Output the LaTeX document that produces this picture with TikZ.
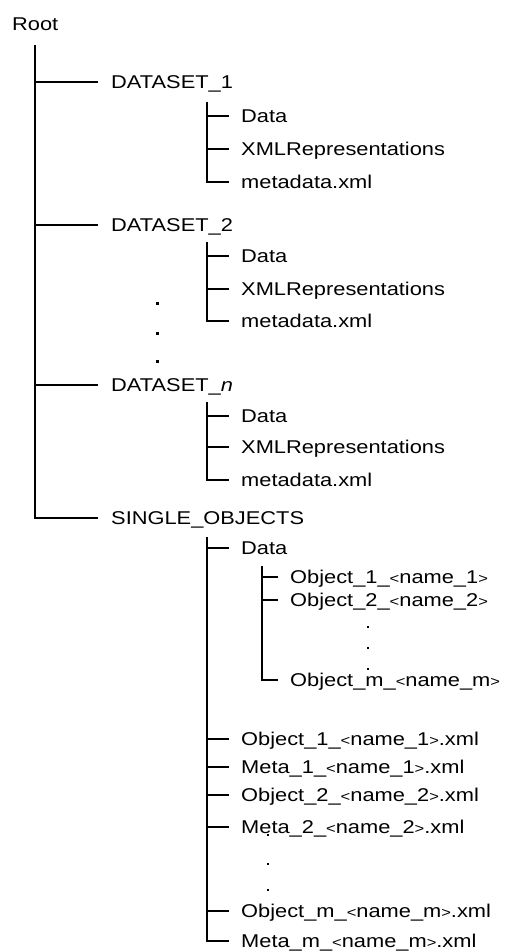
\documentclass[tikz,border=0pt]{standalone}
\usepackage{fontspec}
\newfontfamily\treefont[FakeStretch=1.18]{Liberation Sans}
\newcommand{\myLT}{{\fontsize{14}{14}\selectfont\raisebox{0.6pt}{<}}}
\newcommand{\myGT}{{\fontsize{14}{14}\selectfont\raisebox{0.6pt}{>}}}
\begin{document}
\begin{tikzpicture}[x=1pt,y=-1pt,
  lbl/.style={anchor=west, inner sep=0pt, text height=13.2pt, text depth=0pt,
    font=\treefont\fontsize{18.5}{20}\selectfont},
  link/.style={line width=1.9pt},
  bigdot/.style={fill, inner sep=0pt, minimum size=3pt},
  smalldot/.style={fill, inner sep=0pt, minimum size=1.6pt},
  middot/.style={fill, inner sep=0pt, minimum size=2.6pt}]
\useasboundingbox (0,0) rectangle (504,952);
\fill[white] (0,0) rectangle (504,952);

% root
\node[lbl] (root) at (12,24) {Root};
\coordinate (rbar) at (35,45);

% datasets
\node[lbl] (ds1) at (111,82) {DATASET\_1};
\coordinate (b1) at (207,102);
\node[lbl] (ds1a) at (241,116) {Data};
\node[lbl] (ds1b) at (241,149) {XMLRepresentations};
\node[lbl] (ds1c) at (241,182) {metadata.xml};

\node[lbl] (ds2) at (111,225) {DATASET\_2};
\coordinate (b2) at (207,242);
\node[lbl] (ds2a) at (241,256) {Data};
\node[lbl] (ds2b) at (241,289) {XMLRepresentations};
\node[lbl] (ds2c) at (241,321) {metadata.xml};

\node[bigdot] (dd1) at (157,303) {};
\node[bigdot] (dd2) at (157,333) {};
\node[bigdot] (dd3) at (157,361) {};

\node[lbl] (dsn) at (111,385) {DATASET\_\textit{n}};
\coordinate (bn) at (207,402);
\node[lbl] (dsna) at (241,416) {Data};
\node[lbl] (dsnb) at (241,447) {XMLRepresentations};
\node[lbl] (dsnc) at (241,480) {metadata.xml};

% single objects
\node[lbl] (single) at (111,518) {SINGLE\_OBJECTS};
\coordinate (bs) at (207,537);
\node[lbl] (data) at (241,548) {Data};
\coordinate (bd) at (262,566);
\node[lbl] (o1) at (290,577) {Object\_1\_\myLT name\_1\myGT};
\node[lbl] (o2) at (290,600) {Object\_2\_\myLT name\_2\myGT};
\node[smalldot] (od1) at (368,627) {};
\node[smalldot] (od2) at (368,648) {};
\node[smalldot] (od3) at (368,669) {};
\node[lbl] (om) at (290,680) {Object\_m\_\myLT name\_m\myGT};

\node[lbl] (x1) at (241,739) {Object\_1\_\myLT name\_1\myGT.xml};
\node[lbl] (m1) at (241,767) {Meta\_1\_\myLT name\_1\myGT.xml};
\node[lbl] (x2) at (241,795) {Object\_2\_\myLT name\_2\myGT.xml};
\node[lbl] (m2) at (241,827) {Meta\_2\_\myLT name\_2\myGT.xml};
\node[middot] (xd1) at (268,835) {};
\node[middot] (xd2) at (268,864) {};
\node[middot] (xd3) at (268,890) {};
\node[lbl] (xm) at (241,911) {Object\_m\_\myLT name\_m\myGT.xml};
\node[lbl] (mm) at (241,941) {Meta\_m\_\myLT name\_m\myGT.xml};

% connectors: root level
\draw[link] (rbar) |- ([xshift=-13pt]single.west);
\foreach \c in {ds1,ds2,dsn}
  \draw[link] (\c.west -| rbar) -- ([xshift=-13pt]\c.west);

% dataset children
\draw[link] (b1) |- ([xshift=-12pt]ds1c.west);
\foreach \c in {ds1a,ds1b}
  \draw[link] (\c.west -| b1) -- ([xshift=-12pt]\c.west);
\draw[link] (b2) |- ([xshift=-12pt]ds2c.west);
\foreach \c in {ds2a,ds2b}
  \draw[link] (\c.west -| b2) -- ([xshift=-12pt]\c.west);
\draw[link] (bn) |- ([xshift=-12pt]dsnc.west);
\foreach \c in {dsna,dsnb}
  \draw[link] (\c.west -| bn) -- ([xshift=-12pt]\c.west);

% single objects children
\draw[link] (bs) |- ([xshift=-12pt]mm.west);
\foreach \c in {data,x1,m1,x2,m2,xm}
  \draw[link] (\c.west -| bs) -- ([xshift=-12pt]\c.west);
\draw[link] (bd) |- ([xshift=-12pt]om.west);
\foreach \c in {o1,o2}
  \draw[link] (\c.west -| bd) -- ([xshift=-12pt]\c.west);
\end{tikzpicture}
\end{document}
